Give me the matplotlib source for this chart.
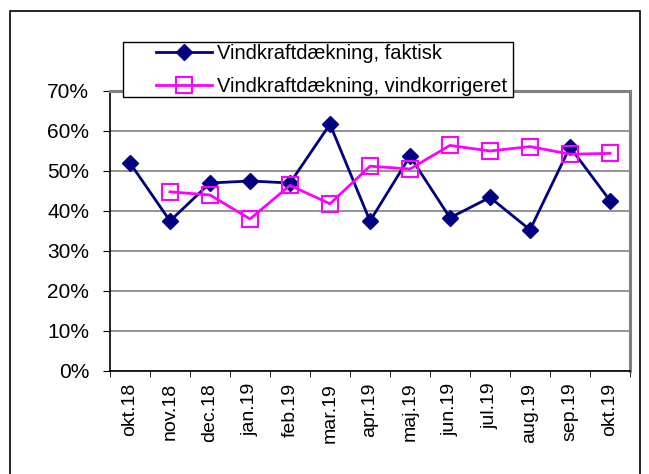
import matplotlib.pyplot as plt
import matplotlib.patches as mpatches
import numpy as np

plt.rcParams['font.family'] = ['Liberation Sans', 'DejaVu Sans']

months = ['okt.18', 'nov.18', 'dec.18', 'jan.19', 'feb.19', 'mar.19', 'apr.19',
          'maj.19', 'jun.19', 'jul.19', 'aug.19', 'sep.19', 'okt.19']
faktisk = [52.0, 37.5, 47.0, 47.5, 47.0, 61.7, 37.5, 53.7, 38.3, 43.4, 35.3, 56.0, 42.6]
korrigeret = [np.nan, 44.8, 44.0, 38.0, 46.4, 41.8, 51.2, 50.5, 56.4, 55.0, 56.1, 54.2, 54.4]

W, H = 649, 474
x = np.arange(len(months))

fig = plt.figure(figsize=(W / 100, H / 100), dpi=100)
ax = fig.add_axes([110 / W, 1 - 371 / H, 520 / W, 280 / H])

# ydre ramme
fig.patches.append(mpatches.Rectangle((10 / W, -0.05), 630 / W, 1.05 - 11 / H,
                                      transform=fig.transFigure, fill=False,
                                      edgecolor='black', linewidth=1.2))

ax.plot(x, faktisk, color='#000080', linewidth=2, marker='D', markersize=8,
        label='Vindkraftdækning, faktisk', zorder=3)
ax.plot(x, korrigeret, color='#FF00FF', linewidth=2, marker='s', markersize=11,
        markerfacecolor='none', markeredgewidth=1.5,
        label='Vindkraftdækning, vindkorrigeret', zorder=4)

ax.set_xlim(-0.5, len(months) - 0.5)
ax.set_ylim(0, 70)
ax.set_yticks(np.arange(0, 71, 10))
ax.set_yticklabels([f'{v}%' for v in range(0, 71, 10)], fontsize=15)
ax.set_xticks(x)
ax.set_xticklabels(months, rotation=90, fontsize=14)
ax.set_xticks(np.arange(-0.5, len(months)), minor=True)
ax.tick_params(axis='x', which='major', length=0, pad=8.5)
ax.tick_params(axis='x', which='minor', length=4, direction='out')
ax.tick_params(axis='y', length=5, direction='out', pad=10)

ax.grid(axis='y', color='#808080', linewidth=1.2)
ax.set_axisbelow(True)
for side in ['top', 'right']:
    ax.spines[side].set_color('#808080')
    ax.spines[side].set_linewidth(2.2)
for side in ['left', 'bottom']:
    ax.spines[side].set_color('black')
    ax.spines[side].set_linewidth(1.2)

# forklaring med egen ramme
ax.add_patch(mpatches.Rectangle((123 / W, 1 - 97 / H), 390 / W, 55 / H,
                                transform=fig.transFigure, facecolor='white',
                                edgecolor='black', linewidth=1, zorder=5,
                                clip_on=False))
leg = ax.legend(loc='upper left', bbox_to_anchor=(156 / W, 1 - 44 / H),
                bbox_transform=fig.transFigure, fontsize=14.5, frameon=False,
                handlelength=2.8, borderpad=0, labelspacing=0.72,
                handletextpad=0.25, borderaxespad=0)
leg.set_zorder(6)

fig.savefig('out.png', dpi=100)
